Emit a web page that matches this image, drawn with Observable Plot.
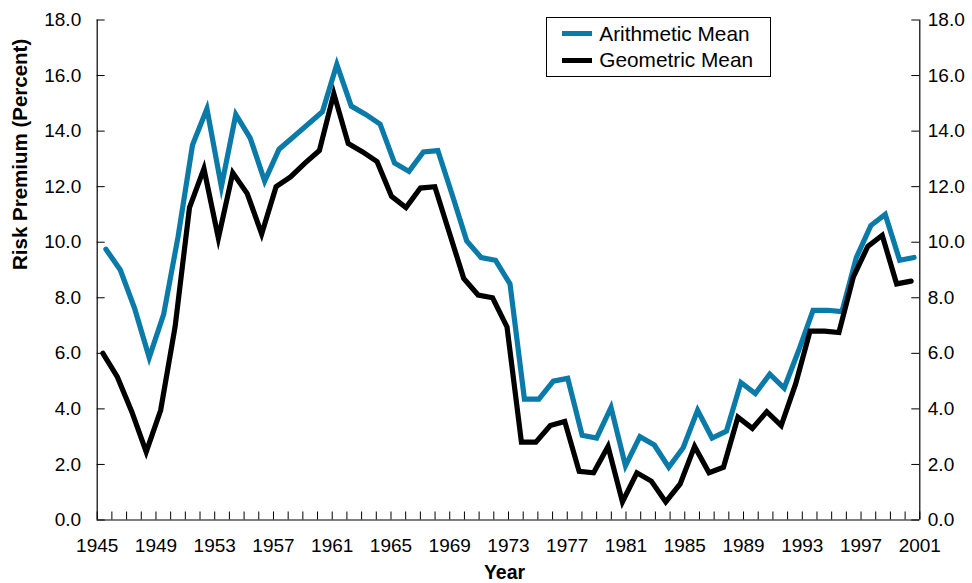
<!DOCTYPE html>
<html>
<head>
<meta charset="utf-8">
<script src="https://cdn.jsdelivr.net/npm/d3@7"></script>
<script src="https://cdn.jsdelivr.net/npm/@observablehq/plot@0.6"></script>
<style>
  html, body { margin: 0; padding: 0; background: #fff; }
  #wrap { position: relative; width: 972px; height: 583px; font-family: "Liberation Sans", Arial, Helvetica, sans-serif; }
  #legend { position: absolute; left: 545.5px; top: 17px; width: 223px; height: 58px; border: 1px solid #000; background: #fff; }
  #legend .sw { position: absolute; left: 15px; width: 30px; height: 5px; }
  #legend .lb { position: absolute; left: 52.8px; font-size: 20.8px; line-height: 20px; color: #000; white-space: nowrap; }
</style>
</head>
<body>
<div id="wrap"></div>
<script>
// ---- data ----
const years = [1945,1946,1947,1948,1949,1950,1951,1952,1953,1954,1955,1956,1957,1958,1959,1960,
  1961,1962,1963,1964,1965,1966,1967,1968,1969,1970,1971,1972,1973,1974,1975,1976,1977,1978,1979,
  1980,1981,1982,1983,1984,1985,1986,1987,1988,1989,1990,1991,1992,1993,1994,1995,1996,1997,1998,
  1999,2000,2001];
const arithmeticMean = [9.75, 9.0, 7.6, 5.85, 7.4, 10.2, 13.5, 14.8, 12.0, 14.6,
  13.75, 12.2, 13.35, 13.8, 14.25, 14.7, 16.4, 14.9, 14.6, 14.25,
  12.85, 12.55, 13.25, 13.3, 11.7, 10.05, 9.45, 9.35, 8.5, 4.35,
  4.35, 5.0, 5.1, 3.05, 2.95, 4.05, 1.95, 3.0, 2.7, 1.9,
  2.6, 3.95, 2.95, 3.2, 4.95, 4.55, 5.25, 4.75, 6.1, 7.55,
  7.55, 7.5, 9.45, 10.6, 11.0, 9.35, 9.45];
const geometricMean = [6.0, 5.15, 3.9, 2.45, 3.95, 6.95, 11.25, 12.65, 10.15, 12.5,
  11.75, 10.3, 12.0, 12.35, 12.85, 13.3, 15.35, 13.55, 13.25, 12.9,
  11.65, 11.25, 11.95, 12.0, 10.35, 8.7, 8.1, 8.0, 6.95, 2.8,
  2.8, 3.4, 3.55, 1.75, 1.7, 2.65, 0.65, 1.7, 1.4, 0.65,
  1.3, 2.65, 1.7, 1.9, 3.7, 3.3, 3.9, 3.4, 4.9, 6.8,
  6.8, 6.75, 8.75, 9.85, 10.25, 8.5, 8.6];
const xTickLabels = [1945,1949,1953,1957,1961,1965,1969,1973,1977,1981,1985,1989,1993,1997,2001];
const yTicks = [0,2,4,6,8,10,12,14,16,18];
const seriesNames = ["Arithmetic Mean", "Geometric Mean"];
const seriesColors = ["#0a7aa8", "#000000"];

// ---- layout ----
const W = 972, H = 583;
const mL = 96.7, mR = 52.7, mT = 19.5, mB = 63.5;
const plotW = W - mL - mR, plotH = H - mT - mB;

const rows = years.map((yr, i) => ({year: yr, i, arithmetic: arithmeticMean[i], geometric: geometricMean[i]}));
// points sit at the centre of each year's slot across the 1945–2001 span
const xPos = d => years[0] + (d.i + 0.5) * (years[years.length - 1] - years[0]) / years.length;

const chart = Plot.plot({
  width: W, height: H,
  marginLeft: mL, marginRight: mR, marginTop: mT, marginBottom: mB,
  style: {fontFamily: '"Liberation Sans", Arial, Helvetica, sans-serif', fontSize: "19px", background: "#fff", color: "#000", overflow: "visible"},
  x: {domain: [1945, 2001], label: null},
  y: {domain: [0, 18], label: null},
  marks: [
    // inward tick marks
    Plot.tickX(years, {x: d => d, insetTop: plotH - 8, stroke: "#000", strokeWidth: 1}),
    Plot.tickY(yTicks, {y: d => d, insetRight: plotW - 8, stroke: "#000", strokeWidth: 1}),
    Plot.tickY(yTicks, {y: d => d, insetLeft: plotW - 8, stroke: "#000", strokeWidth: 1}),
    // frame (left, right, bottom)
    Plot.ruleX([1945, 2001], {stroke: "#000", strokeWidth: 1.2}),
    Plot.ruleY([0], {stroke: "#000", strokeWidth: 1.2}),
    // tick labels
    Plot.axisX({ticks: xTickLabels, tickSize: 0, tickPadding: 18, tickFormat: d => String(d), label: null, fontSize: 19}),
    Plot.axisY({anchor: "left", ticks: yTicks, tickSize: 0, tickPadding: 16, tickFormat: d => d.toFixed(1), label: null, fontSize: 19}),
    Plot.axisY({anchor: "right", ticks: yTicks, tickSize: 0, tickPadding: 8, tickFormat: d => d.toFixed(1), label: null, fontSize: 19}),
    // series
    Plot.line(rows, {x: xPos, y: "arithmetic", stroke: seriesColors[0], strokeWidth: 5.2, strokeLinejoin: "miter", strokeMiterlimit: 10, dx: 1.5}),
    Plot.line(rows, {x: xPos, y: "geometric", stroke: seriesColors[1], strokeWidth: 5.2, strokeLinejoin: "miter", strokeMiterlimit: 10, dx: -1.5}),
    // axis titles
    Plot.text(["Risk Premium (Percent)"], {text: d => d, frameAnchor: "left", rotate: -90, dx: -77, fontWeight: "bold", fontSize: 20.5}),
    Plot.text(["Year"], {text: d => d, frameAnchor: "bottom", lineAnchor: "bottom", dy: 59, dx: -4, fontWeight: "bold", fontSize: 19.5})
  ]
});

const wrap = document.getElementById("wrap");
wrap.appendChild(chart);

// legend
const legend = document.createElement("div");
legend.id = "legend";
const rowsPos = [{sw: 12.8, lb: 5.8}, {sw: 40.2, lb: 32.4}];
seriesNames.forEach((name, k) => {
  const sw = document.createElement("div");
  sw.className = "sw";
  sw.style.top = rowsPos[k].sw + "px";
  sw.style.background = seriesColors[k];
  const lb = document.createElement("div");
  lb.className = "lb";
  lb.style.top = rowsPos[k].lb + "px";
  lb.textContent = name;
  legend.appendChild(sw);
  legend.appendChild(lb);
});
wrap.appendChild(legend);
</script>
</body>
</html>
